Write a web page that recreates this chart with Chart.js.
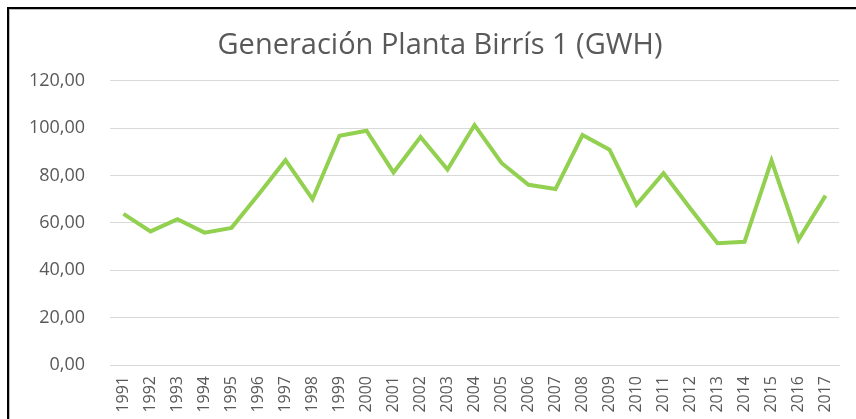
<!DOCTYPE html>
<html>
<head>
<meta charset="utf-8">
<script src="https://cdn.jsdelivr.net/npm/chart.js@4/dist/chart.umd.min.js"></script>
<style>
  html, body { margin: 0; padding: 0; background: #fff; overflow: hidden; }
  #frame {
    position: absolute; left: 7px; top: 7px;
    width: 849px; height: 412px;
    border-left: 2px solid #000; border-top: 2px solid #000;
    box-shadow: inset 1px 1px 0 #bdbdbd;
  }
  #frame canvas { position: absolute; left: 0; top: 0; }
</style>
</head>
<body>
<div id="frame"><canvas id="birrisChart" width="847" height="410"></canvas></div>
<script>
var years = ['1991', '1992', '1993', '1994', '1995', '1996', '1997', '1998', '1999', '2000',
             '2001', '2002', '2003', '2004', '2005', '2006', '2007', '2008', '2009', '2010',
             '2011', '2012', '2013', '2014', '2015', '2016', '2017'];
var generacion = [63.8, 56.4, 61.6, 55.9, 57.9, 72.0, 86.5, 70.0, 96.8, 98.9,
                  81.3, 96.3, 82.5, 101.3, 85.3, 76.1, 74.3, 97.1, 90.9, 67.7,
                  81.0, 66.0, 51.4, 52.0, 86.3, 52.9, 71.5];
var yTicks = [0, 20, 40, 60, 80, 100, 120];

var gray = '#595959';

// the original title sits a bit right of the plot's centre, nudge its box
var shiftTitle = {
    id: 'shiftTitle',
    afterLayout: function (chart) {
        if (chart.titleBlock) chart.titleBlock.left += 30;
    }
};

var ctx = document.getElementById('birrisChart').getContext('2d');
new Chart(ctx, {
    type: 'line',
    data: {
        labels: years,
        datasets: [{
            label: 'Generación',
            data: generacion,
            borderColor: '#92D050',
            borderWidth: 4,
            pointRadius: 0,
            tension: 0,
            fill: false
        }]
    },
    options: {
        responsive: false,
        animation: false,
        layout: { padding: { left: 0, right: 15, top: 0, bottom: 0 } },
        plugins: {
            legend: { display: false },
            tooltip: { enabled: false },
            title: {
                display: true,
                text: 'Generación Planta Birrís 1 (GWH)',
                color: gray,
                font: { family: 'Open Sans', size: 29, weight: 'normal' },
                padding: { top: 19, bottom: 18 }
            }
        },
        scales: {
            x: {
                offset: true,
                grid: { display: false, drawTicks: false },
                border: { display: true, color: '#d9d9d9', width: 1 },
                ticks: {
                    color: gray,
                    font: { family: 'Open Sans', size: 16 },
                    minRotation: 90, maxRotation: 90,
                    autoSkip: false,
                    padding: 11
                },
                afterFit: function (scale) { scale.height = 54; }
            },
            y: {
                min: 0, max: 120,
                afterBuildTicks: function (scale) {
                    scale.ticks = yTicks.map(function (v) { return { value: v }; });
                },
                grid: { color: '#d9d9d9', drawTicks: false },
                border: { display: false },
                ticks: {
                    color: gray,
                    font: { family: 'Open Sans', size: 18 },
                    padding: 25,
                    callback: function (v) { return v.toFixed(2).replace('.', ','); }
                },
                afterFit: function (scale) { scale.width = 101; }
            }
        }
    },
    plugins: [shiftTitle]
});
</script>
</body>
</html>
